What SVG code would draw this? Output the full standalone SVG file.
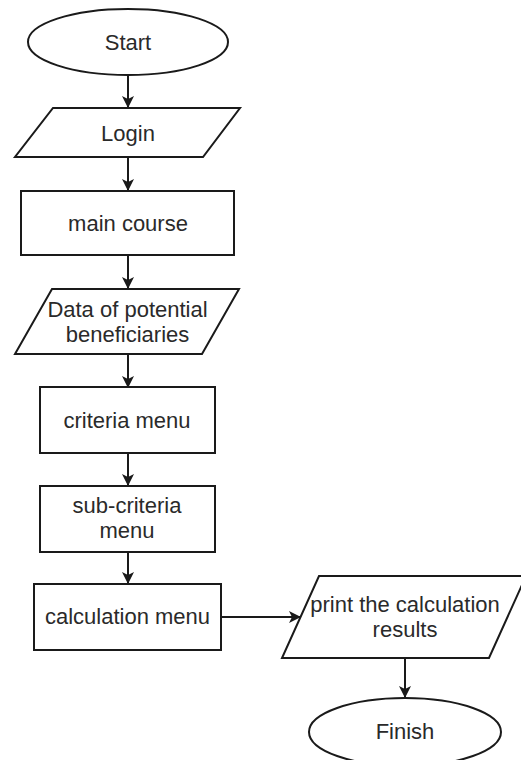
<svg xmlns="http://www.w3.org/2000/svg" width="521" height="760" viewBox="0 0 521 760">
  <style>
    .shape { fill: #ffffff; stroke: #1a1a1a; stroke-width: 2; }
    .lbl { font-family: "Liberation Sans", Arial, sans-serif; font-size: 22px; fill: #2a2a2a; text-anchor: middle; }
    .edge { fill: none; stroke: #1a1a1a; stroke-width: 2; }
  </style>
  <defs>
    <marker id="arrow" viewBox="0 0 12 12" refX="11" refY="6" markerWidth="12" markerHeight="12" markerUnits="userSpaceOnUse" orient="auto">
      <path d="M0,0 L12,6 L0,12 L3,6 Z" fill="#1a1a1a"/>
    </marker>
  </defs>
  <rect width="521" height="760" fill="#ffffff"/>

  <g id="connectors">
    <line class="edge" x1="128" y1="75" x2="128" y2="107" marker-end="url(#arrow)"/>
    <line class="edge" x1="128" y1="157" x2="128" y2="190" marker-end="url(#arrow)"/>
    <line class="edge" x1="128" y1="255" x2="128" y2="288" marker-end="url(#arrow)"/>
    <line class="edge" x1="128" y1="354" x2="128" y2="387" marker-end="url(#arrow)"/>
    <line class="edge" x1="128" y1="453" x2="128" y2="485" marker-end="url(#arrow)"/>
    <line class="edge" x1="128" y1="552" x2="128" y2="583" marker-end="url(#arrow)"/>
    <line class="edge" x1="221" y1="617" x2="300" y2="617" marker-end="url(#arrow)"/>
    <line class="edge" x1="405" y1="658" x2="405" y2="697" marker-end="url(#arrow)"/>
  </g>

  <g id="start">
    <ellipse class="shape" cx="128" cy="42" rx="100" ry="33"/>
    <text class="lbl" x="128" y="50">Start</text>
  </g>

  <g id="login">
    <polygon class="shape" points="53,108 240,108 203,157 15,157"/>
    <text class="lbl" x="128" y="141">Login</text>
  </g>

  <g id="main-course">
    <rect class="shape" x="21" y="191" width="213" height="64"/>
    <text class="lbl" x="128" y="231">main course</text>
  </g>

  <g id="data">
    <polygon class="shape" points="52,289 239,289 202,354 15,354"/>
    <text class="lbl" x="127.5" y="317">Data of potential</text>
    <text class="lbl" x="127.5" y="342">beneficiaries</text>
  </g>

  <g id="criteria-menu">
    <rect class="shape" x="40" y="387" width="175" height="66"/>
    <text class="lbl" x="127" y="428">criteria menu</text>
  </g>

  <g id="sub-criteria-menu">
    <rect class="shape" x="40" y="486" width="175" height="66"/>
    <text class="lbl" x="127" y="513">sub-criteria</text>
    <text class="lbl" x="127" y="538">menu</text>
  </g>

  <g id="calculation-menu">
    <rect class="shape" x="34" y="584" width="187" height="66"/>
    <text class="lbl" x="127.5" y="624">calculation menu</text>
  </g>

  <g id="print-results">
    <polygon class="shape" points="319,576 526,576 489,658 282,658"/>
    <text class="lbl" x="405" y="612">print the calculation</text>
    <text class="lbl" x="405" y="637">results</text>
  </g>

  <g id="finish">
    <ellipse class="shape" cx="405" cy="732" rx="96" ry="34"/>
    <text class="lbl" x="405" y="739">Finish</text>
  </g>
</svg>
